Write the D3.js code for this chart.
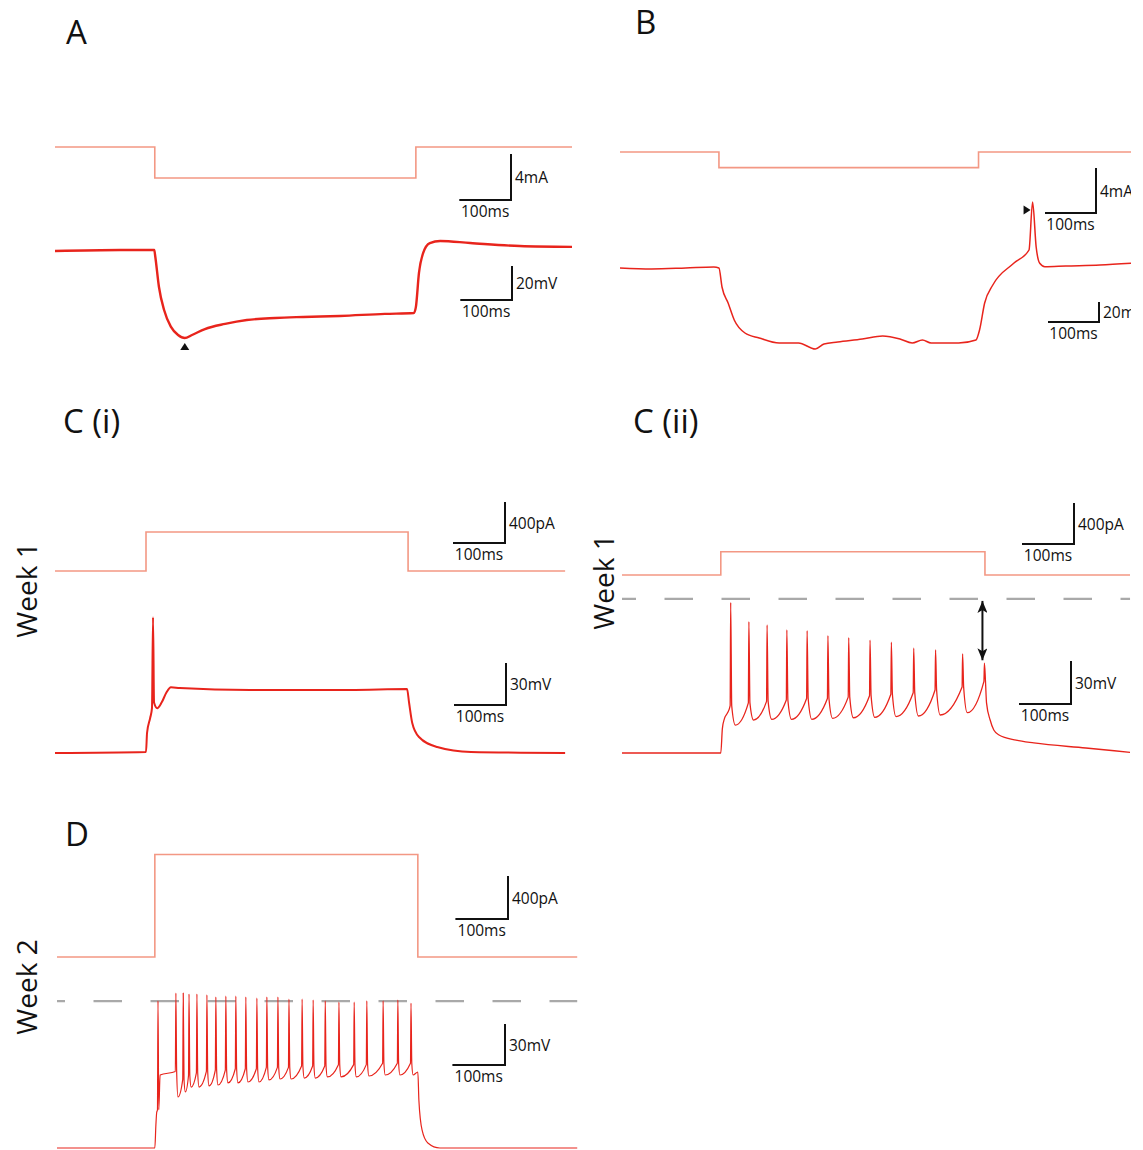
<!DOCTYPE html>
<html>
<head>
<meta charset="utf-8">
<script src="https://cdn.jsdelivr.net/npm/d3@7"></script>
<style>
  body { margin: 0; background: #fff; }
  svg { display: block; font-family: "Open Sans", "DejaVu Sans", sans-serif; }
</style>
</head>
<body>
<svg id="fig"></svg>
<script>
// ---------------- data (ms, mV relative to rest, mA / pA) ----------------
const panelNames = ["A", "B", "C (i)", "C (ii)", "D"];
const weekNames = ["Week 1", "Week 1", "Week 2"];   // C(i), C(ii), D

// step current injections
const stimOnset  = [193, 194, 175, 190, 186];
const stimOffset = [698, 703, 679, 698, 686];
const stimEnd    = [1000, 1002, 981, 977, 989];
const stimAmp    = [-2.7, -1.39, 380, 227, 953];

// scale bars
const currentBarValue = [4, 4, 400, 400, 400];
const currentBarLabel = ["4mA", "4mA", "400pA", "400pA", "400pA"];
const voltBarValue = [20, 20, 30, 30, 30];
const voltBarLabel = ["20mV", "20mV", "30mV", "30mV", "30mV"];
const timeBarValue = 100;
const timeBarLabel = "100ms";

// A: hyperpolarising step, sag
const aVoltT  = [0, 126, 192, 194, 201, 211, 224, 238, 251, 265, 290, 329, 371, 426, 480, 551, 638, 694, 698, 704, 712, 725, 745, 803, 899, 1000];
const aVoltMv = [0, 0.6, 0.6, -3.4, -21, -34.7, -44.5, -49.4, -51.2, -49.4, -45.9, -42.9, -40.6, -39.4, -38.8, -38.2, -37, -36.5, -33, -12.9, -1.2, 4.7, 5.9, 4.7, 2.9, 2.4];

// B: hyperpolarisation with rebound spike
const bVoltT  = [0, 62, 129, 184, 194, 200, 212, 224, 245, 273, 312, 350, 383, 400, 427, 475, 515, 549, 573, 593, 610, 664, 698, 705, 715, 731, 772, 802, 809, 816, 823, 833, 874, 941, 1002];
const bVoltMv = [0, -1, 0, 1, 0, -19, -35, -52, -65, -70, -75, -75, -81, -76, -74, -71, -68, -71, -75, -72, -75, -75, -72, -62, -35, -17, 4.7, 18, 66, 21, 4.7, 1.3, 2, 3, 4.7];

// C(i): single spike then plateau
const c1VoltT  = [0, 175, 177, 183, 186.5, 188.5, 190.5, 196.5, 205, 214, 223, 240, 375, 567, 677, 681, 687, 700, 735, 800, 981];
const c1VoltMv = [0, 0.7, 14.3, 25, 32, 97, 36, 32, 36, 43, 47, 46.4, 45, 45, 45.7, 35.7, 21.4, 11.4, 4.3, 0.7, 0];

// C(ii): adapting train
const c2PreT  = [0, 190, 193, 197, 203];
const c2PreMv = [0, 0, 17, 24, 28];
const c2SpikeT    = [209, 244, 279, 317, 356, 396, 436, 477, 518, 561, 603, 655, 697];
const c2SpikePeak = [105, 91.6, 89.3, 85.8, 85.3, 81.8, 80.4, 78.8, 77.3, 73.1, 71.9, 69.1, 62.6];
const c2SpikeThr  = [33, 35, 36, 37, 38, 38, 39, 40, 41, 42, 44, 46, 50];
const c2Trough    = [19.5, 23, 23.5, 23.5, 23.5, 24.2, 24.6, 24.9, 25.4, 25.8, 26.5, 28.1];
const c2PostT  = [701, 708, 715, 725, 758, 792, 892, 977];
const c2PostMv = [35, 23, 16, 12.6, 9, 7, 3.5, 0.5];

// D: week 2 train
const dPreT  = [0, 186, 188, 189.5];
const dPreMv = [0, 0, 16.8, 26];
const dSpikeT    = [192, 226, 240, 251, 266, 285, 302, 321, 340, 359, 380, 399, 420, 441, 466, 487, 510, 536, 565, 589, 620, 648, 673];
const dSpikePeak = [107.6, 113.4, 113.4, 112.7, 112.7, 112, 110.5, 111.2, 111.2, 110.5, 109.7, 110.5, 110.5, 109, 109, 108.3, 107.6, 106.8, 106.8, 107.6, 107.6, 108.3, 106.1];
const dSpikeThr  = [28, 56, 50, 53, 55, 56, 57, 57, 58, 58, 58, 59, 59, 59, 60, 60, 60, 61, 61, 61, 62, 62, 62];
const dTrough    = [53.4, 37.3, 41, 44.6, 44.6, 45.4, 46.1, 47.6, 47.6, 48.3, 48.3, 49.8, 50.5, 50.5, 51.2, 51.2, 52, 52, 52, 52.7, 53.4, 53.4];
const dPostT  = [677, 686, 688, 694, 705, 728, 989];
const dPostMv = [53.4, 55.6, 35, 13.2, 3.7, 0, 0];

// peak level of first week-1 spike (dashed reference)
const refLevelMv = 107.5;

// ---------------- layout ----------------
const layout = [
  { x0: 55,  pxPerMs: 0.517, iBase: 147, iBarPx: 46, vBase: 251,  vBarPx: 34, iCorner: [511, 200],  vCorner: [512, 300],  label: [66, 44],   vWidth: 2.4, spikeShape: null },
  { x0: 620, pxPerMs: 0.51,  iBase: 152, iBarPx: 45, vBase: 268,  vBarPx: 20, iCorner: [1096, 213], vCorner: [1099, 322], label: [635, 34],  vWidth: 1.5, spikeShape: null },
  { x0: 55,  pxPerMs: 0.52,  iBase: 571, iBarPx: 41, vBase: 753,  vBarPx: 42, iCorner: [505, 543],  vCorner: [506, 705],  label: [63, 433],  vWidth: 2.0, week: [37, 590] },
  { x0: 622, pxPerMs: 0.52,  iBase: 575, iBarPx: 41, vBase: 753,  vBarPx: 43, iCorner: [1074, 544], vCorner: [1071, 704], label: [633, 433], vWidth: 1.3, week: [614, 582], spikeShape: { rise: 1, fall: 2, ahp: 9 } },
  { x0: 57,  pxPerMs: 0.526, iBase: 957, iBarPx: 43, vBase: 1148, vBarPx: 41, iCorner: [508, 919],  vCorner: [505, 1065], label: [65, 846],  vWidth: 1.2, week: [37, 987], spikeShape: { rise: 1, fall: 1.5, ahp: 4 } }
];

const currentColor = "#f39884";
const voltColor = "#e8241c";

const W = 1143, H = 1150;
const svg = d3.select("#fig").attr("width", W).attr("height", H);
svg.append("rect").attr("width", W).attr("height", H).attr("fill", "#fff");

const defs = svg.append("defs");
defs.append("clipPath").attr("id", "clipB")
  .append("rect").attr("x", 590).attr("y", 0).attr("width", 541).attr("height", 395);
defs.append("marker")
  .attr("id", "dblArrow")
  .attr("viewBox", "0 0 12 10")
  .attr("refX", 12).attr("refY", 5)
  .attr("markerWidth", 12).attr("markerHeight", 10)
  .attr("markerUnits", "userSpaceOnUse")
  .attr("orient", "auto-start-reverse")
  .append("path").attr("d", "M0,0 L12,5 L0,10 L3,5 Z").attr("fill", "#111");

function pairs(ts, vs) { return ts.map((t, i) => [t, vs[i]]); }

function spikeTrain(preT, preV, spT, peak, thr, trough, postT, postV, shape) {
  const pts = pairs(preT, preV);
  spT.forEach((t, i) => {
    pts.push([t - shape.rise, thr[i]]);
    pts.push([t, peak[i]]);
    pts.push([t + shape.fall, thr[i]]);
    if (i < trough.length) pts.push([t + shape.ahp, trough[i]]);
  });
  return pts.concat(pairs(postT, postV));
}

function scaleBar(g, corner, wPx, hPx, unitLabel) {
  const [cx, cy] = corner;
  g.append("path")
    .attr("d", `M${cx - wPx},${cy} H${cx} V${cy - hPx}`)
    .attr("fill", "none").attr("stroke", "#111").attr("stroke-width", 2);
  g.append("text").attr("x", cx + 4).attr("y", cy - hPx / 2 + 6)
    .attr("font-size", "15.5px").attr("fill", "#111").text(unitLabel);
  g.append("text").attr("x", cx - wPx / 2).attr("y", cy + 17)
    .attr("text-anchor", "middle").attr("font-size", "15.5px").attr("fill", "#111").text(timeBarLabel);
}

function drawPanel(k, voltPts) {
  const L = layout[k];
  const g = svg.append("g");
  if (k === 1) g.attr("clip-path", "url(#clipB)");

  const x = d3.scaleLinear().domain([0, 1000]).range([L.x0, L.x0 + 1000 * L.pxPerMs]);
  const yI = d3.scaleLinear().domain([0, currentBarValue[k]]).range([L.iBase, L.iBase - L.iBarPx]);
  const yV = d3.scaleLinear().domain([0, voltBarValue[k]]).range([L.vBase, L.vBase - L.vBarPx]);

  // command current
  const stim = [[0, 0], [stimOnset[k], 0], [stimOnset[k], stimAmp[k]],
                [stimOffset[k], stimAmp[k]], [stimOffset[k], 0], [stimEnd[k], 0]];
  g.append("path").datum(stim)
    .attr("d", d3.line().x(d => x(d[0])).y(d => yI(d[1])))
    .attr("fill", "none").attr("stroke", currentColor).attr("stroke-width", 1.6);

  // membrane voltage
  g.append("path").datum(voltPts)
    .attr("d", d3.line().curve(d3.curveMonotoneX).x(d => x(d[0])).y(d => yV(d[1])))
    .attr("fill", "none").attr("stroke", voltColor)
    .attr("stroke-width", L.vWidth).attr("stroke-linejoin", "round");

  scaleBar(g, L.iCorner, x(timeBarValue) - x(0), yI(0) - yI(currentBarValue[k]), currentBarLabel[k]);
  scaleBar(g, L.vCorner, x(timeBarValue) - x(0), yV(0) - yV(voltBarValue[k]), voltBarLabel[k]);

  svg.append("text").attr("x", L.label[0]).attr("y", L.label[1])
    .attr("font-size", "33px").attr("fill", "#111").text(panelNames[k]);

  return { g, x, yV };
}

// A
const pA = drawPanel(0, pairs(aVoltT, aVoltMv));
{
  const i = d3.minIndex(aVoltMv);
  const tx = pA.x(aVoltT[i]), ty = pA.yV(aVoltMv[i]) + 5;
  pA.g.append("path").attr("d", `M${tx},${ty} l4.5,7 h-9 Z`).attr("fill", "#111");
}

// B
const pB = drawPanel(1, pairs(bVoltT, bVoltMv));
{
  const i = d3.maxIndex(bVoltMv);
  const tx = pB.x(bVoltT[i]) - 2, ty = pB.yV(bVoltMv[i]) + 8;
  pB.g.append("path").attr("d", `M${tx},${ty} l-7,-4.5 v9 Z`).attr("fill", "#111");
}

// C(i)
drawPanel(2, pairs(c1VoltT, c1VoltMv));

// C(ii)
const pC2 = drawPanel(3, spikeTrain(c2PreT, c2PreMv, c2SpikeT, c2SpikePeak, c2SpikeThr, c2Trough, c2PostT, c2PostMv, layout[3].spikeShape));

// D
const pD = drawPanel(4, spikeTrain(dPreT, dPreMv, dSpikeT, dSpikePeak, dSpikeThr, dTrough, dPostT, dPostMv, layout[4].spikeShape));

// dashed reference lines (week 1 first-spike peak)
[[pC2, 0, stimEnd[3], 14.5], [pD, 0, stimEnd[4], 20.5]].forEach(([p, t0, t1, off]) => {
  p.g.insert("line", ":first-child")
    .attr("x1", p.x(t0)).attr("x2", p.x(t1))
    .attr("y1", p.yV(refLevelMv)).attr("y2", p.yV(refLevelMv))
    .attr("stroke", "#a9a9a9").attr("stroke-width", 2.2)
    .attr("stroke-dasharray", "28.5,28.5").attr("stroke-dashoffset", off);
});

// double arrow: reference level to last spike peak in C(ii)
{
  const n = c2SpikeT.length - 1;
  const ax = pC2.x(c2SpikeT[n]) - 2;
  pC2.g.append("line")
    .attr("x1", ax).attr("x2", ax)
    .attr("y1", pC2.yV(refLevelMv) + 2).attr("y2", pC2.yV(c2SpikePeak[n]) - 3)
    .attr("stroke", "#111").attr("stroke-width", 2)
    .attr("marker-start", "url(#dblArrow)").attr("marker-end", "url(#dblArrow)");
}

// week labels
weekNames.forEach((w, i) => {
  const L = layout[i + 2];
  svg.append("text")
    .attr("transform", `translate(${L.week[0]},${L.week[1]}) rotate(-90)`)
    .attr("text-anchor", "middle").attr("font-size", "28px").attr("fill", "#111")
    .text(w);
});
</script>
</body>
</html>
